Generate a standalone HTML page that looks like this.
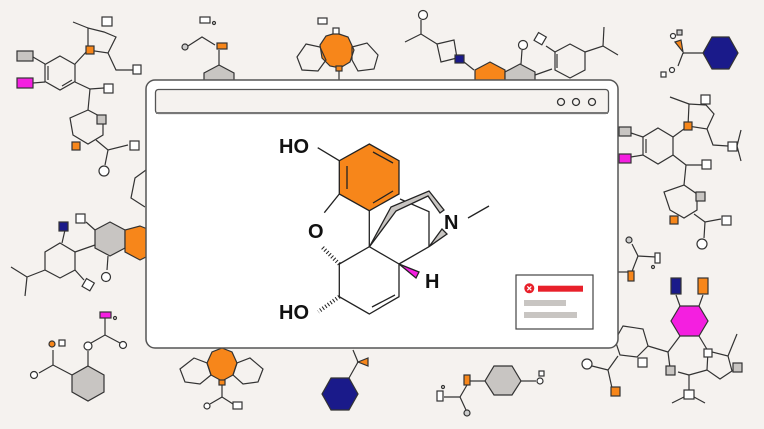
<!DOCTYPE html>
<html><head><meta charset="utf-8"><style>
html,body{margin:0;padding:0;background:#f5f2ef;}
svg{display:block}
text{font-family:"Liberation Sans",sans-serif;font-weight:bold;fill:#111}
</style></head><body>
<svg width="764" height="429" viewBox="0 0 764 429" xmlns="http://www.w3.org/2000/svg">
<rect width="764" height="429" fill="#f5f2ef"/>
<g stroke="#333" stroke-width="1.2" fill="none">
<polygon points="60,56 75,64.5 75,81.5 60,90 45,81.5 45,64.5"/>
<line x1="48" y1="66" x2="48" y2="80"/><line x1="62" y1="86" x2="72" y2="80"/>
<rect x="17" y="51" width="16" height="10" fill="#c8c5c2"/>
<rect x="17" y="78" width="16" height="10" fill="#f41fe0"/>
<line x1="33" y1="57" x2="45" y2="64"/><line x1="33" y1="83" x2="45" y2="82"/>
<polyline points="75,64 88,50 108,53 116,37 104,32 88,28 88,50"/>
<line x1="88" y1="28" x2="73" y2="22"/>
<rect x="102" y="17" width="10" height="9" fill="#fff"/>
<rect x="86" y="46" width="8" height="8" fill="#f7861a"/>
<polyline points="108,53 116,70 133,70"/><rect x="133" y="65" width="8" height="9" fill="#fff"/>
<polyline points="75,82 90,89 104,88"/><rect x="104" y="84" width="9" height="9" fill="#fff"/>
<polygon points="88,110 103,118 103,135 88,144 73,135 70,118"/>
<line x1="90" y1="89" x2="88" y2="110"/>
<rect x="97" y="115" width="9" height="9" fill="#c8c5c2"/>
<rect x="72" y="142" width="8" height="8" fill="#f7861a"/>
<polyline points="96,140 108,150 128,145"/><rect x="130" y="141" width="9" height="9" fill="#fff"/>
<line x1="108" y1="150" x2="105" y2="165"/><circle cx="104" cy="171" r="5" fill="#fff"/>
<rect x="200" y="17" width="10" height="6" fill="#fff"/><circle cx="214" cy="23" r="1.5"/>
<circle cx="185" cy="47" r="3" fill="#ccc"/>
<polyline points="188,46 202,37 215,45"/><rect x="217" y="43" width="10" height="6" fill="#f7861a"/>
<line x1="219" y1="50" x2="219" y2="65"/>
<polygon points="219,65 234,73 234,90 204,90 204,73" fill="#c8c5c2"/>
<polygon points="336,33 348,37 354,50 350,62 340,68 330,66 322,58 320,45 326,36" fill="#f7861a"/>
<polygon points="306,44 320,47 326,60 318,71 302,70 297,57" />
<polygon points="352,47 367,43 378,55 374,69 358,71 352,60"/>
<rect x="318" y="18" width="9" height="6" fill="#fff"/><rect x="333" y="28" width="6" height="6" fill="#fff"/>
<rect x="336" y="66" width="6" height="5" fill="#f7861a"/><line x1="339" y1="71" x2="339" y2="80"/>
<circle cx="423" cy="15" r="4.5" fill="#fff"/>
<line x1="421" y1="20" x2="421" y2="34"/><polyline points="405,42 421,34 437,44"/>
<polygon points="437,44 454,40 457,58 441,62"/>
<rect x="455" y="55" width="9" height="8" fill="#1a1a8a"/>
<line x1="464" y1="62" x2="474" y2="70"/>
<polygon points="490,62 505,70 505,90 475,90 475,70" fill="#f7861a"/>
<polygon points="520,64 535,72 535,90 505,90 505,72" fill="#c8c5c2"/>
<circle cx="523" cy="45" r="4.5" fill="#fff"/><line x1="522" y1="50" x2="521" y2="64"/>
<line x1="535" y1="75" x2="552" y2="69"/>
<polygon points="570,44 585,52 585,70 570,78 555,70 555,52"/>
<line x1="557" y1="54" x2="557" y2="68"/>
<line x1="555" y1="52" x2="546" y2="46"/><rect x="536" y="34" width="9" height="9" fill="#fff" transform="rotate(30 540 38)"/>
<polyline points="585,52 603,46 618,55"/><line x1="603" y1="46" x2="604" y2="27"/>
<polygon points="712,37 729,37 738,53 729,69 712,69 703,53" fill="#1a1a8a"/>
<line x1="683" y1="53" x2="703" y2="53"/>
<polygon points="675,42 681,40 683,52" fill="#f7861a"/>
<line x1="683" y1="53" x2="678" y2="66"/>
<circle cx="673" cy="36" r="2.5" fill="#fff"/><rect x="677" y="30" width="5" height="5" fill="#ccc"/>
<circle cx="672" cy="70" r="2.5" fill="#fff"/><rect x="661" y="72" width="5" height="5" fill="#fff"/>
<polygon points="658,128 673,137 673,155 658,164 643,155 643,137"/>
<line x1="646" y1="139" x2="646" y2="153"/>
<rect x="619" y="127" width="12" height="9" fill="#c8c5c2"/><rect x="619" y="154" width="12" height="9" fill="#f41fe0"/>
<line x1="631" y1="133" x2="643" y2="137"/><line x1="631" y1="157" x2="643" y2="155"/>
<polyline points="673,137 688,126 707,129 714,114 706,105 689,104 688,126"/>
<line x1="689" y1="104" x2="670" y2="97"/>
<rect x="701" y="95" width="9" height="9" fill="#fff"/>
<rect x="684" y="122" width="8" height="8" fill="#f7861a"/>
<polyline points="707,129 713,145 728,146"/><rect x="728" y="142" width="9" height="9" fill="#fff"/>
<line x1="737" y1="146" x2="741" y2="130"/><line x1="737" y1="146" x2="741" y2="161"/>
<polyline points="673,155 686,165 702,165"/><rect x="702" y="160" width="9" height="9" fill="#fff"/>
<polygon points="684,185 697,194 697,210 684,218 670,210 664,192"/>
<line x1="686" y1="165" x2="684" y2="185"/>
<rect x="696" y="192" width="9" height="9" fill="#c8c5c2"/>
<rect x="670" y="216" width="8" height="8" fill="#f7861a"/>
<polyline points="694,214 705,222 721,219"/><rect x="722" y="216" width="9" height="9" fill="#fff"/>
<line x1="705" y1="222" x2="704" y2="238"/><circle cx="702" cy="244" r="5" fill="#fff"/>
<circle cx="629" cy="240" r="3" fill="#ccc"/>
<polyline points="632,244 638,256 656,257"/><rect x="655" y="253" width="5" height="10" fill="#fff"/><circle cx="653" cy="267" r="1.5"/>
<line x1="638" y1="256" x2="631" y2="274"/><rect x="628" y="271" width="6" height="10" fill="#f7861a"/><line x1="618" y1="272" x2="628" y2="272"/>
<rect x="671" y="278" width="10" height="16" fill="#1a1a8a"/><rect x="698" y="278" width="10" height="16" fill="#f7861a"/>
<polygon points="680,306 699,306 708,321 699,336 680,336 671,321" fill="#f41fe0"/>
<line x1="676" y1="295" x2="680" y2="306"/><line x1="703" y1="295" x2="699" y2="306"/>
<polygon points="623,326 643,329 648,346 637,357 620,355 615,340"/>
<line x1="648" y1="346" x2="668" y2="352"/><line x1="668" y1="352" x2="680" y2="336"/>
<line x1="668" y1="352" x2="670" y2="368"/><rect x="666" y="366" width="9" height="9" fill="#c8c5c2"/>
<polyline points="699,336 708,351 728,356 732,371 720,379 707,370 708,351"/>
<rect x="704" y="349" width="8" height="8" fill="#fff"/>
<rect x="733" y="363" width="9" height="9" fill="#c8c5c2"/>
<line x1="728" y1="356" x2="737" y2="334"/>
<polyline points="707,370 689,375 689,391"/><rect x="684" y="390" width="10" height="9" fill="#fff"/>
<line x1="684" y1="397" x2="672" y2="403"/><line x1="694" y1="397" x2="705" y2="403"/>
<line x1="689" y1="375" x2="678" y2="372"/>
<polyline points="618,356 608,370 612,388"/><rect x="611" y="387" width="9" height="9" fill="#f7861a"/>
<line x1="608" y1="370" x2="592" y2="366"/><circle cx="587" cy="364" r="5" fill="#fff"/>
<rect x="638" y="358" width="9" height="9" fill="#fff"/>
<polygon points="494,366 512,366 521,381 512,395 494,395 485,381" fill="#c8c5c2"/>
<line x1="470" y1="381" x2="485" y2="381"/><line x1="521" y1="381" x2="536" y2="381"/>
<rect x="539" y="371" width="5" height="5" fill="#fff"/><circle cx="540" cy="381" r="3" fill="#fff"/>
<rect x="464" y="375" width="6" height="10" fill="#f7861a"/>
<polyline points="467,385 460,397 444,397"/><rect x="437" y="391" width="6" height="10" fill="#fff"/><circle cx="443" cy="387" r="1.5"/>
<line x1="460" y1="397" x2="466" y2="410"/><circle cx="467" cy="413" r="3" fill="#ccc"/>
<polygon points="331,378 349,378 358,394 349,410 331,410 322,394" fill="#1a1a8a"/>
<polyline points="349,378 358,362 353,350"/>
<polygon points="358,362 368,358 368,366" fill="#f7861a"/>
<polygon points="222,348 232,352 237,363 233,375 222,381 211,375 207,363 212,352" fill="#f7861a"/>
<polygon points="194,358 207,363 211,375 200,384 185,382 180,369"/>
<polygon points="250,358 263,369 258,382 243,384 233,375 237,363"/>
<rect x="219" y="380" width="6" height="5" fill="#f7861a"/>
<polyline points="222,385 222,397 210,404"/><line x1="222" y1="397" x2="233" y2="404"/>
<circle cx="207" cy="406" r="3" fill="#fff"/><rect x="233" y="402" width="9" height="7" fill="#fff"/>
<polygon points="88,366 104,375 104,392 88,401 72,392 72,375" fill="#c8c5c2"/>
<line x1="88" y1="366" x2="88" y2="351"/><circle cx="88" cy="346" r="4" fill="#fff"/>
<polyline points="91,343 105,335 120,343"/><circle cx="123" cy="345" r="3.5" fill="#fff"/>
<line x1="105" y1="335" x2="105" y2="318"/><rect x="100" y="312" width="11" height="6" fill="#f41fe0"/><circle cx="115" cy="318" r="1.5"/>
<polyline points="72,375 53,365 39,373"/><circle cx="34" cy="375" r="3.5" fill="#fff"/>
<line x1="53" y1="365" x2="53" y2="350"/><circle cx="52" cy="344" r="3" fill="#f7861a"/><rect x="59" y="340" width="6" height="6" fill="#fff"/>
<polygon points="110,222 125,230 125,248 110,256 95,248 95,230" fill="#c8c5c2"/>
<polygon points="140,226 150,230 150,255 140,260 125,252 125,230" fill="#f7861a"/>
<polygon points="60,243 75,252 75,270 60,278 45,270 45,252"/>
<line x1="75" y1="252" x2="95" y2="245"/>
<line x1="62" y1="243" x2="65" y2="230"/><rect x="59" y="222" width="9" height="9" fill="#1a1a8a"/>
<line x1="95" y1="230" x2="86" y2="222"/><rect x="76" y="214" width="9" height="9" fill="#fff"/>
<line x1="75" y1="270" x2="84" y2="280"/><rect x="84" y="280" width="9" height="9" fill="#fff" transform="rotate(30 88 284)"/>
<line x1="108" y1="256" x2="107" y2="270"/><circle cx="106" cy="277" r="4.5" fill="#fff"/>
<polyline points="45,270 27,277 11,267"/><line x1="27" y1="277" x2="25" y2="296"/>
<polyline points="146,170 135,178 131,198 145,207"/>
</g>

<rect x="146" y="80" width="472" height="268" rx="9" fill="#fff" stroke="#555" stroke-width="1.5"/>
<rect x="155.5" y="89.5" width="453" height="24" rx="3" fill="#f5f2ef" stroke="#555" stroke-width="1.3"/>
<line x1="156" y1="113" x2="608" y2="113" stroke="#777" stroke-width="2"/>
<g fill="none" stroke="#333" stroke-width="1.3">
<circle cx="561" cy="102" r="3.5"/><circle cx="576" cy="102" r="3.5"/><circle cx="592" cy="102" r="3.5"/>
</g>

<g stroke="#222" stroke-width="1.3" fill="none">
<polygon points="369.3,144 399,160.7 399,194 369.3,210.7 339.3,194 339.3,160.7" fill="#f7861a"/>
<line x1="373" y1="152" x2="393" y2="163"/><line x1="393" y1="191" x2="373" y2="203"/><line x1="347" y1="166" x2="347" y2="189"/>
<line x1="317.7" y1="147.7" x2="339.3" y2="160.7"/>
<line x1="339.3" y1="194" x2="324.3" y2="212.7"/>
<line x1="369.3" y1="210.7" x2="369.3" y2="246.7"/>
<polygon points="369.3,246.7 399,264 399,296.7 369.3,314 339.3,296.7 339.3,264"/>
<line x1="395" y1="295" x2="372" y2="307"/>
<line x1="399" y1="264" x2="429" y2="246.7"/>
<polyline points="400,199 429,211.7 429,246.7"/>
<line x1="468" y1="218" x2="489" y2="206"/>
<line x1="339.3" y1="264" x2="321.7" y2="246.7" stroke-width="4" stroke-dasharray="1 2.2"/>
<line x1="339.3" y1="296.7" x2="318.3" y2="311.7" stroke-width="4" stroke-dasharray="1 2.2"/>
<polygon points="369.3,247 391,207 429,191 444,210 440,213 428,196 396,211" fill="#c8c5c2"/>
<polygon points="429,246.7 442,229 447,234" fill="#c8c5c2"/>
<polygon points="399,264 419,272 416,278" fill="#f41fe0"/>
</g>
<text x="279" y="153" font-size="20">HO</text>
<text x="308" y="238" font-size="20">O</text>
<text x="444" y="229" font-size="20">N</text>
<text x="425" y="288" font-size="20">H</text>
<text x="279" y="319" font-size="20">HO</text>

<rect x="516" y="275" width="77" height="54" fill="#fff" stroke="#444" stroke-width="1.2"/>
<circle cx="529.3" cy="288.3" r="5" fill="#e8202a"/>
<path d="M527.3 286.3l4 4M531.3 286.3l-4 4" stroke="#fff" stroke-width="1.2"/>
<rect x="538" y="285.7" width="45" height="6" fill="#e8202a"/>
<rect x="524" y="300" width="42" height="6" fill="#c8c5c2"/>
<rect x="524" y="312" width="53" height="6" fill="#c8c5c2"/>
</svg>
</body></html>
